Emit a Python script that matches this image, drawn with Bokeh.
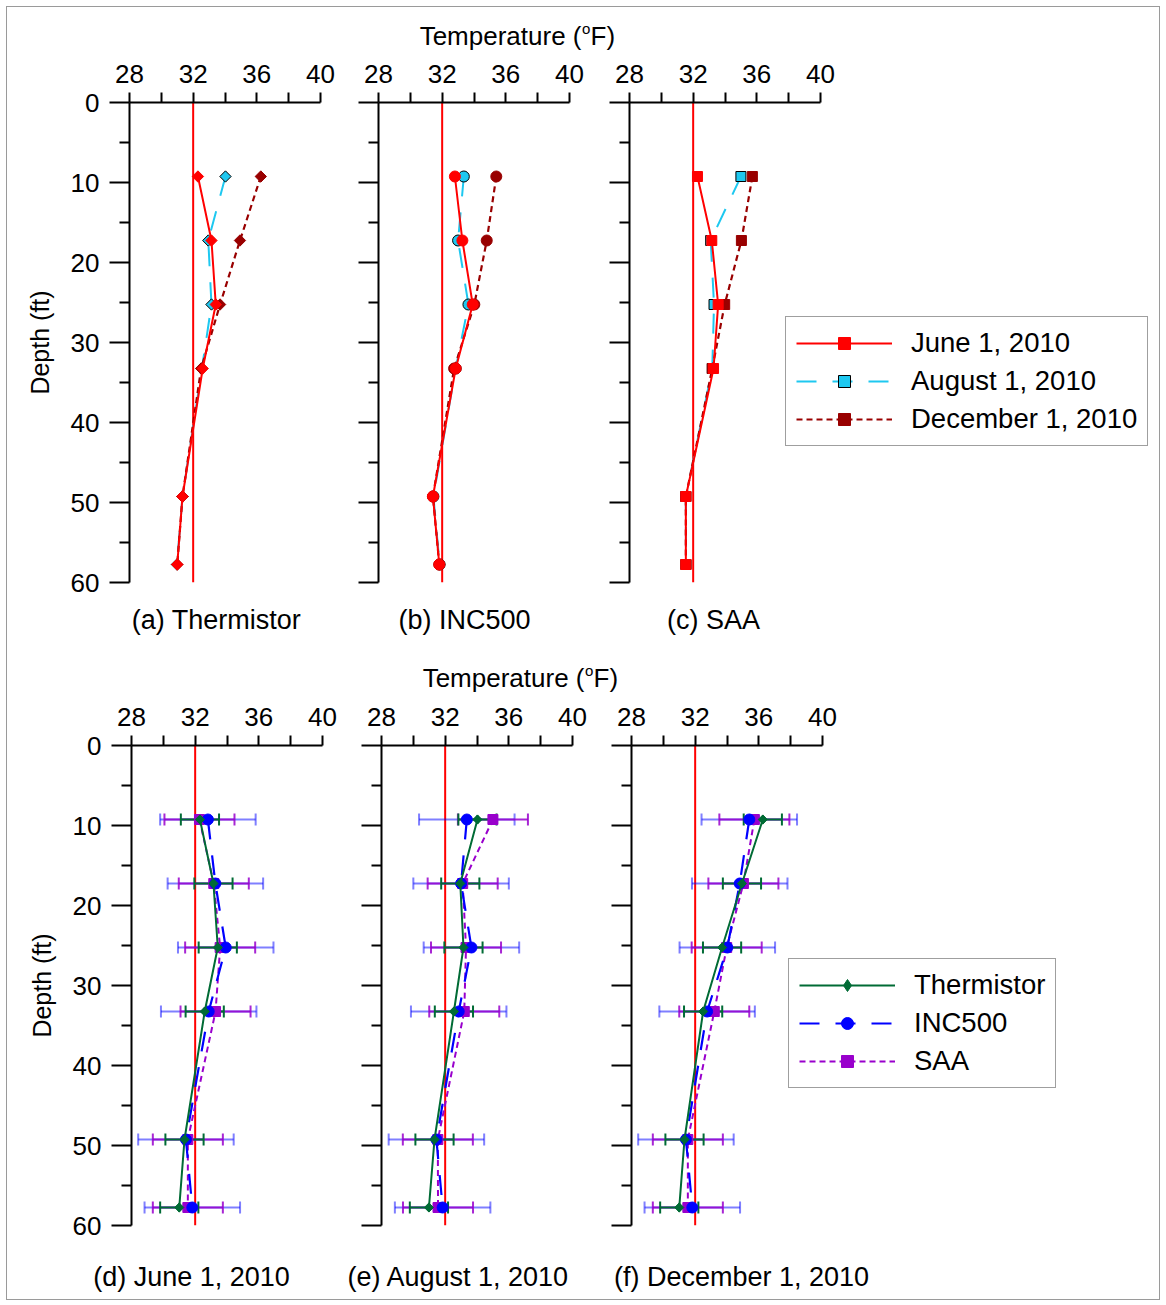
import numpy as np
from bokeh.plotting import figure
from bokeh.models import (Range1d, FixedTicker, Span, Label, Legend, LegendItem,
                          ColumnDataSource, Whisker, TeeHead)
from bokeh.layouts import row, column
from bokeh.embed import file_html
from bokeh.resources import INLINE

# ---------------- data ----------------
depth_ft = [9.25, 17.25, 25.25, 33.25, 49.25, 57.75]

thermistor_jun = [32.30, 33.15, 33.42, 32.60, 31.33, 31.00]
thermistor_aug = [34.03, 32.95, 33.15, 32.55, 31.33, 30.98]
thermistor_dec = [36.25, 34.94, 33.69, 32.50, 31.33, 31.00]
inc500_jun = [32.80, 33.27, 33.92, 32.85, 31.42, 31.82]
inc500_aug = [33.36, 33.00, 33.65, 32.85, 31.45, 31.84]
inc500_dec = [35.40, 34.80, 34.02, 32.75, 31.42, 31.82]
saa_jun = [32.27, 33.17, 33.57, 33.28, 31.54, 31.54]
saa_aug = [35.00, 33.10, 33.31, 33.20, 31.54, 31.55]
saa_dec = [35.72, 35.03, 33.98, 33.20, 31.54, 31.54]

err_thermistor = 1.2
err_inc500 = 3.0
err_saa = 2.2

dates = ["June 1, 2010", "August 1, 2010", "December 1, 2010"]
instruments = ["Thermistor", "INC500", "SAA"]
captions_top = ["(a) Thermistor", "(b) INC500", "(c) SAA"]
captions_bottom = ["(d) June 1, 2010", "(e) August 1, 2010", "(f) December 1, 2010"]
freezing_f = 32

temp_ticks = [28, 32, 36, 40]
temp_minor_ticks = [30, 34, 38]
depth_ticks = [0, 10, 20, 30, 40, 50, 60]
depth_minor_ticks = [5, 15, 25, 35, 45, 55]

# ---------------- styles ----------------
FONT = "Liberation Sans"
PX_DEG = 191 / 12.0
PX_FT = 8.0
FRAME_H = 480
TOTAL_W = 1152
OX, OY = 7, 7  # page position of layout content (margin 6 + border 1)
BB = 18        # border below each panel frame

C_JUN, C_AUG, C_DEC = "#ff0000", "#1ec8f0", "#990000"
C_TH, C_INC, C_SAA = "#006b35", "#0000ff", "#9900cc"
RED = "#ff0000"


def panel(width, bl, br, bt, bb, ylabels, ylabel=None):
    fw = width - bl - br
    p = figure(width=width, height=bt + FRAME_H + bb, title=None,
               x_range=Range1d(temp_ticks[0], temp_ticks[0] + fw / PX_DEG),
               y_range=Range1d(depth_ticks[-1], depth_ticks[0]),
               x_axis_location="above", y_axis_location="left",
               output_backend="svg", toolbar_location=None,
               min_border_left=bl, min_border_right=br,
               min_border_top=bt, min_border_bottom=bb)
    p.xgrid.visible = False
    p.ygrid.visible = False
    p.outline_line_color = None
    p.background_fill_color = "white"
    p.border_fill_color = "white"
    xa = p.xaxis[0]
    xa.ticker = FixedTicker(ticks=temp_ticks, minor_ticks=temp_minor_ticks)
    xa.bounds = (temp_ticks[0], temp_ticks[-1])
    xa.major_tick_in = 0
    xa.minor_tick_in = 0
    xa.major_tick_out = 10
    xa.minor_tick_out = 10
    xa.axis_line_width = 2
    xa.major_tick_line_width = 2
    xa.minor_tick_line_width = 2
    xa.major_label_text_font = FONT
    xa.major_label_text_font_size = "26px"
    xa.major_label_text_color = "black"
    xa.major_label_standoff = 10
    ya = p.yaxis[0]
    ya.ticker = FixedTicker(ticks=depth_ticks, minor_ticks=depth_minor_ticks)
    ya.major_tick_in = 0
    ya.minor_tick_in = 0
    ya.major_tick_out = 20
    ya.minor_tick_out = 10
    ya.axis_line_width = 2
    ya.major_tick_line_width = 2
    ya.minor_tick_line_width = 2
    ya.major_label_text_font = FONT
    ya.major_label_text_color = "black"
    ya.major_label_text_font_size = "26px"
    if ylabels:
        ya.major_label_standoff = 10
    else:
        ya.major_label_overrides = {t: "" for t in depth_ticks}
        ya.major_label_standoff = 0
    if ylabel:
        ya.axis_label = ylabel
        ya.axis_label_text_font = FONT
        ya.axis_label_text_font_size = "25px"
        ya.axis_label_text_font_style = "normal"
        ya.axis_label_text_color = "black"
        ya.axis_label_standoff = 14
    p.add_layout(Span(location=freezing_f, dimension="height", line_color=RED,
                      line_width=2, level="underlay"))
    return p


def strip(height):
    s = figure(width=TOTAL_W, height=height, title=None,
               x_range=Range1d(0, TOTAL_W), y_range=Range1d(height, 0),
               x_axis_location=None, y_axis_location=None,
               output_backend="svg", toolbar_location=None,
               min_border=0, min_border_left=0, min_border_right=0,
               min_border_top=0, min_border_bottom=0)
    s.xgrid.visible = False
    s.ygrid.visible = False
    s.outline_line_color = None
    s.background_fill_color = "white"
    s.border_fill_color = "white"
    return s


def text(s, x, y, t, size="27px", align="center"):
    s.add_layout(Label(x=x, y=y, text=t, text_font=FONT, text_font_size=size,
                       text_align=align, text_baseline="middle", text_color="black"))


def temp_title(s, cx, cy):
    # "Temperature (" + superscript "o" + "F)"
    xo = cx + 66
    text(s, xo, cy, "Temperature (", "26px", "right")
    text(s, xo + 0.5, cy - 7, "o", "15px", "left")
    text(s, xo + 9, cy, "F)", "26px", "left")


def series(p, temps, color, dash, lw, marker, size, angle=0.0, mline=None):
    src = ColumnDataSource(dict(t=temps, d=depth_ft))
    l = p.line("t", "d", source=src, line_color=color, line_width=lw, line_dash=dash)
    s = p.scatter("t", "d", source=src, marker=marker, size=size, angle=angle,
                  fill_color=color, line_color=mline or color, line_width=1)
    return l, s, src


def whisker(p, temps, err, color, alpha):
    t = np.array(temps)
    src = ColumnDataSource(dict(d=depth_ft, lo=t - err, hi=t + err))
    w = Whisker(source=src, base="d", lower="lo", upper="hi", dimension="width",
                line_color=color, line_width=2, line_alpha=alpha,
                lower_head=TeeHead(size=12, line_color=color, line_width=2, line_alpha=alpha),
                upper_head=TeeHead(size=12, line_color=color, line_width=2, line_alpha=alpha))
    p.add_layout(w)


def make_legend(items, loc):
    return Legend(items=items, location=loc, orientation="vertical",
                  border_line_color="#404040", border_line_width=1,
                  background_fill_color="white", background_fill_alpha=1,
                  label_text_font=FONT, label_text_font_size="27.5px",
                  label_text_color="black",
                  glyph_width=96, glyph_height=30, label_height=30,
                  label_standoff=19, spacing=6, padding=10, margin=0)


DIAM = np.pi / 4

# page layout (y): stripA 7..52, row1 52..600, stripB 600..695, row2 695..1243, stripC 1243..1299
ROW1_TOP, ROW2_TOP = 52, 695
STRIPB_TOP, STRIPC_TOP = ROW1_TOP + 50 + FRAME_H + BB, ROW2_TOP + 50 + FRAME_H + BB

# ---------------- strips (titles / captions) ----------------
stripA = strip(ROW1_TOP - OY)
temp_title(stripA, 515 - OX, 35 - OY)

stripB = strip(ROW2_TOP - STRIPB_TOP)
for t, cx in zip(captions_top, [216, 464, 713]):
    text(stripB, cx - OX, 619 - STRIPB_TOP, t)
temp_title(stripB, 518 - OX, 677 - STRIPB_TOP)

stripC = strip(1299 - STRIPC_TOP)
for t, cx in zip(captions_bottom, [191, 458, 741]):
    text(stripC, cx - OX, 1276 - STRIPC_TOP, t)

# ---------------- top row ----------------
fa = panel(333, 122, 20, 50, BB, True, "Depth (ft)")
fb = panel(255, 38, 26, 50, BB, False)
fc = panel(564, 34, 0, 50, BB, False)

top_sets = [
    (fa, [thermistor_jun, thermistor_aug, thermistor_dec], "square", 8, DIAM),
    (fb, [inc500_jun, inc500_aug, inc500_dec], "circle", 11, 0.0),
    (fc, [saa_jun, saa_aug, saa_dec], "square", 10, 0.0),
]
legend_top = {}
for fig, (jun, aug, dec), mk, sz, ang in top_sets:
    ra = series(fig, aug, C_AUG, "20 16", 2, mk, sz, ang, mline="black")
    rd = series(fig, dec, C_DEC, "6 4", 2.2, mk, sz, ang)
    rj = series(fig, jun, C_JUN, "solid", 2, mk, sz, ang)
    legend_top[fig] = (rj, ra, rd)

rj, ra, rd = legend_top[fc]
fc.add_layout(make_legend([LegendItem(label=dates[0], renderers=[rj[0], rj[1]]),
                           LegendItem(label=dates[1], renderers=[ra[0], ra[1]]),
                           LegendItem(label=dates[2], renderers=[rd[0], rd[1]])],
                          (785 - 629, 582 - 446)))

# ---------------- bottom row ----------------
fd = panel(333, 124, 18, 50, BB, True, "Depth (ft)")
fe = panel(257, 41, 25, 50, BB, False)
ff = panel(562, 34, 0, 50, BB, False)

bottom_sets = [
    (fd, thermistor_jun, inc500_jun, saa_jun),
    (fe, thermistor_aug, inc500_aug, saa_aug),
    (ff, thermistor_dec, inc500_dec, saa_dec),
]
leg_r = None
for fig, th, inc, saa in bottom_sets:
    rs = series(fig, saa, C_SAA, "6 4", 2, "square", 10)
    ri = series(fig, inc, C_INC, "20 16", 2.2, "circle", 11)
    rt = series(fig, th, C_TH, "solid", 2, "square", 6.5, DIAM)
    # diamond glyph under the rotated square (same points), used for the legend entry
    rt_d = fig.scatter("t", "d", source=rt[2], marker="diamond", size=9,
                       fill_color=C_TH, line_color=C_TH, level="underlay")
    whisker(fig, inc, err_inc500, C_INC, 0.5)
    whisker(fig, saa, err_saa, C_SAA, 0.85)
    whisker(fig, th, err_thermistor, C_TH, 1.0)
    leg_r = (rt, rt_d, ri, rs)

rt, rt_d, ri, rs = leg_r
ff.add_layout(make_legend([LegendItem(label=instruments[0], renderers=[rt[0], rt_d]),
                           LegendItem(label=instruments[1], renderers=[ri[0], ri[1]]),
                           LegendItem(label=instruments[2], renderers=[rs[0], rs[1]])],
                          (788 - 631, 1225 - 1088)))

layout = column(stripA, row(fa, fb, fc), stripB, row(fd, fe, ff), stripC,
                margin=(6, 0, 0, 6),
                styles={"border": "1px solid #9a9a9a"})

open("out.html", "w").write(file_html(layout, INLINE))
